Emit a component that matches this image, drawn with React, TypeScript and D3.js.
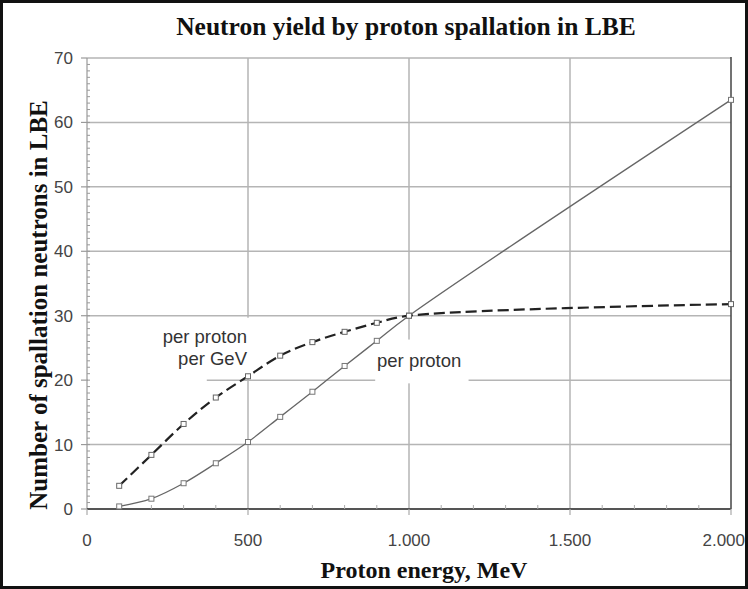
import React from "react";
import * as d3 from "d3";

const energies = [100, 200, 300, 400, 500, 600, 700, 800, 900, 1000, 2000];
const perProton = [0.4, 1.6, 4.0, 7.1, 10.4, 14.3, 18.2, 22.2, 26.1, 30.0, 63.5];
const perProtonPerGeV = [3.6, 8.4, 13.2, 17.3, 20.6, 23.8, 25.9, 27.5, 28.9, 30.0, 31.8];
const xTicks = [0, 500, 1000, 1500, 2000];
const xTickLabels = ["0", "500", "1.000", "1.500", "2.000"];
const yTicks = [0, 10, 20, 30, 40, 50, 60, 70];

const W = 748;
const H = 589;
const M = { left: 87, right: 731, top: 58, bottom: 509 };

export default function App() {
  const x = d3.scaleLinear().domain([0, 2000]).range([M.left, M.right]);
  const y = d3.scaleLinear().domain([0, 70]).range([M.bottom, M.top]);
  const line = d3
    .line<[number, number]>()
    .x((d) => x(d[0]))
    .y((d) => y(d[1]))
    .curve(d3.curveCatmullRom.alpha(0.5));
  const solidPts = energies.map((e, i) => [e, perProton[i]] as [number, number]);
  const dashPts = energies.map((e, i) => [e, perProtonPerGeV[i]] as [number, number]);
  const yMinor = d3.range(0, 70, 1);
  const xMinor = d3.range(100, 2000, 100).filter((v) => v % 500 !== 0);
  const sans = "'Liberation Sans', Arial, sans-serif";
  const serif = "'Liberation Serif', 'Times New Roman', serif";

  return (
    <svg
      width={W}
      height={H}
      style={{ position: "absolute", left: 0, top: 0, background: "#fff" }}
    >
      <rect x={0} y={0} width={W} height={H} fill="#fff" />
      <text
        x={406}
        y={35}
        textAnchor="middle"
        fontFamily={serif}
        fontWeight="bold"
        fontSize={25.5}
        fill="#111"
      >
        Neutron yield by proton spallation in LBE
      </text>

      {/* horizontal grid */}
      {yTicks.filter((t) => t > 0).map((t) => (
        <line key={"gy" + t} x1={M.left} x2={M.right} y1={y(t)} y2={y(t)} stroke="#b5b5b5" strokeWidth={1.5} />
      ))}
      {/* vertical grid */}
      {xTicks.filter((t) => t > 0 && t < 2000).map((t) => (
        <line key={"gx" + t} x1={x(t)} x2={x(t)} y1={M.top} y2={M.bottom} stroke="#b5b5b5" strokeWidth={1.5} />
      ))}

      {/* label masks */}
      <rect x={M.left + 1} y={y(30) + 2} width={x(500) + 3 - M.left - 1} height={y(20.6) - y(30) - 2} fill="#fff" />
      <rect x={M.left + 1} y={y(20.6)} width={x(372) - M.left - 1} height={y(19) - y(20.6)} fill="#fff" />
      <rect x={x(895)} y={y(26.3)} width={x(1185) - x(895)} height={y(19.5) - y(26.3)} fill="#fff" />

      {/* y axis */}
      <line x1={M.left} x2={M.left} y1={M.top} y2={M.bottom} stroke="#999" strokeWidth={1.2} />
      {yMinor.map((t) => (
        <line key={"ym" + t} x1={M.left} x2={M.left + 3} y1={y(t)} y2={y(t)} stroke="#999" strokeWidth={1} />
      ))}
      {yTicks.map((t) => (
        <g key={"yt" + t}>
          <line x1={M.left - 6} x2={M.left} y1={y(t)} y2={y(t)} stroke="#999" strokeWidth={1.2} />
          <text x={73} y={y(t) + 6} textAnchor="end" fontFamily={sans} fontSize={17} fill="#444">
            {t}
          </text>
        </g>
      ))}

      {/* right border */}
      <line x1={M.right} x2={M.right} y1={M.top - 1} y2={M.bottom} stroke="#444" strokeWidth={1.5} />

      {/* x axis */}
      <line x1={M.left} x2={M.right} y1={M.bottom} y2={M.bottom} stroke="#555" strokeWidth={2.2} />
      {xMinor.map((t) => (
        <line key={"xm" + t} x1={x(t)} x2={x(t)} y1={M.bottom - 4} y2={M.bottom} stroke="#aaa" strokeWidth={1} />
      ))}
      {xTicks.map((t, i) => (
        <g key={"xt" + t}>
          <line x1={x(t)} x2={x(t)} y1={M.bottom} y2={M.bottom + 6} stroke="#aaa" strokeWidth={1.2} />
          <text
            x={i === xTicks.length - 1 ? 745 : x(t)}
            y={546}
            textAnchor={i === xTicks.length - 1 ? "end" : "middle"}
            fontFamily={sans}
            fontSize={17}
            fill="#444"
          >
            {xTickLabels[i]}
          </text>
        </g>
      ))}

      {/* series */}
      <path d={line(solidPts) || ""} fill="none" stroke="#666" strokeWidth={1.3} />
      <path d={line(dashPts) || ""} fill="none" stroke="#222" strokeWidth={2.2} strokeDasharray="11,5" />
      {solidPts.map((p, i) => (
        <rect key={"sp" + i} x={x(p[0]) - 2.5} y={y(p[1]) - 2.5} width={5} height={5} fill="#fff" stroke="#777" strokeWidth={1} />
      ))}
      {dashPts.map((p, i) => (
        <rect key={"dp" + i} x={x(p[0]) - 2.5} y={y(p[1]) - 2.5} width={5} height={5} fill="#fff" stroke="#666" strokeWidth={1} />
      ))}

      {/* annotations */}
      <text x={247} y={343} textAnchor="end" fontFamily={sans} fontSize={18.5} fill="#333">
        per proton
      </text>
      <text x={247} y={365} textAnchor="end" fontFamily={sans} fontSize={18.5} fill="#333">
        per GeV
      </text>
      <text x={377} y={367} textAnchor="start" fontFamily={sans} fontSize={18.5} fill="#333">
        per proton
      </text>

      {/* axis titles */}
      <text
        x={424}
        y={578}
        textAnchor="middle"
        fontFamily={serif}
        fontWeight="bold"
        fontSize={24}
        fill="#111"
      >
        Proton energy, MeV
      </text>
      <text
        transform={`translate(47, ${305}) rotate(-90)`}
        textAnchor="middle"
        fontFamily={serif}
        fontWeight="bold"
        fontSize={25}
        fill="#111"
      >
        Number of spallation neutrons in LBE
      </text>
      <rect x={1.5} y={1.5} width={W - 3} height={H - 3} fill="none" stroke="#111" strokeWidth={3} />
    </svg>
  );
}
